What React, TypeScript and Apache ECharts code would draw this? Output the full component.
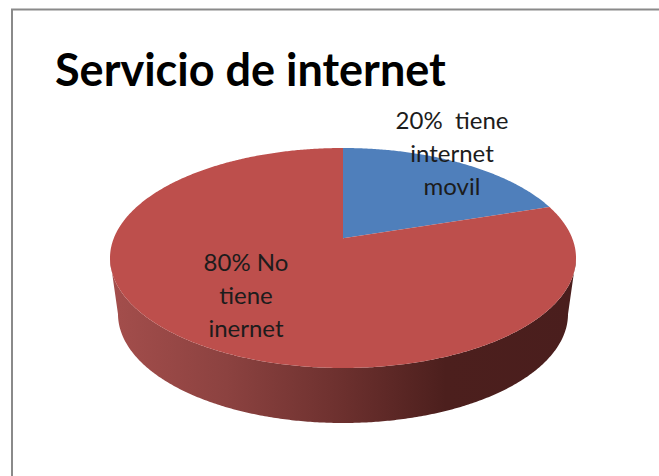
import React, { useEffect, useRef } from "react";
import * as echarts from "echarts";

const titleText = "Servicio de internet";
const sliceNames = ["tiene internet movil", "No tiene internet"];
const sliceValues = [20, 80];
const sliceColors = ["#4F7FBB", "#BD4F4C"];
const sliceLabels = ["20%  tiene\ninternet\nmovil", "80% No\ntiene\ninernet"];
const labelPositions = [[452, 152], [246, 294]];

// Layout of the tilted pie
const top = { cx: 343, cy: 258, rx: 233, ry: 110 };
const bottom = { cx: 343, cy: 314, rx: 225, ry: 109 };
const tilt = 0.18; // how far the perspective shifts the pie's centre up the ellipse

const total = sliceValues.reduce((a, b) => a + b, 0);

function project(deg: number) {
  const t = (deg * Math.PI) / 180;
  const X = Math.sin(t);
  const Y = Math.cos(t);
  const w = 1 + tilt * Y;
  return { u: (X * Math.sqrt(1 - tilt * tilt)) / w, v: (Y + tilt) / w };
}
const onEllipse = (e: typeof top, p: { u: number; v: number }) => [e.cx + e.rx * p.u, e.cy - e.ry * p.v];

function renderSlice(params: any, api: any) {
  const i = params.dataIndex;
  const before = sliceValues.slice(0, i).reduce((a, b) => a + b, 0);
  const start = (before / total) * 360;
  const end = ((before + api.value(0)) / total) * 360;
  const samples: { u: number; v: number }[] = [];
  for (let a = start; a < end; a += 0.5) samples.push(project(a));
  samples.push(project(end));

  const children: any[] = [];
  const front = samples.filter((p) => p.v <= 0);
  if (front.length > 1) {
    children.push({
      type: "polygon",
      shape: {
        points: [...front.map((p) => onEllipse(top, p)), ...[...front].reverse().map((p) => onEllipse(bottom, p))],
      },
      style: {
        fill: new echarts.graphic.LinearGradient(0, 0, 1, 0, [
          { offset: 0, color: "#A44E4C" },
          { offset: 0.25, color: "#8C4240" },
          { offset: 0.5, color: "#6C302E" },
          { offset: 0.72, color: "#4C1F1D" },
          { offset: 1, color: "#4A1E1D" },
        ]),
      },
    });
  }
  const centre = [top.cx, top.cy - top.ry * tilt];
  children.push({
    type: "polygon",
    shape: { points: [centre, ...samples.map((p) => onEllipse(top, p))] },
    style: { fill: sliceColors[i] },
  });
  return { type: "group", children };
}

function renderLabel(params: any) {
  const i = params.dataIndex;
  return {
    type: "text",
    x: labelPositions[i][0],
    y: labelPositions[i][1],
    style: {
      text: sliceLabels[i],
      fill: "#1C1C1C",
      font: "24px Lato",
      lineHeight: 33,
      align: "center",
      verticalAlign: "middle",
    },
  };
}

export default function App() {
  const ref = useRef<HTMLDivElement>(null);
  useEffect(() => {
    const chart = echarts.init(ref.current!, null, { renderer: "svg" });
    const data = sliceValues.map((value, i) => ({ name: sliceNames[i], value }));
    chart.setOption({
      animation: false,
      backgroundColor: "#FFFFFF",
      title: {
        text: titleText,
        left: 50,
        top: 41,
        textStyle: { fontFamily: "Lato", fontWeight: "bold", fontSize: 45, color: "#000000" },
      },
      graphic: [
        {
          type: "rect",
          silent: true,
          shape: { x: 12, y: 9.5, width: 700, height: 500 },
          style: { fill: "transparent", stroke: "#8A8A8A", lineWidth: 2 },
        },
      ],
      series: [
        { type: "custom", coordinateSystem: "none", renderItem: renderSlice, data, silent: true, z: 2 },
        { type: "custom", coordinateSystem: "none", renderItem: renderLabel, data, silent: true, z: 3 },
      ],
    });
    return () => chart.dispose();
  }, []);
  return <div ref={ref} style={{ position: "fixed", left: 0, top: 0, width: 659, height: 476 }} />;
}
